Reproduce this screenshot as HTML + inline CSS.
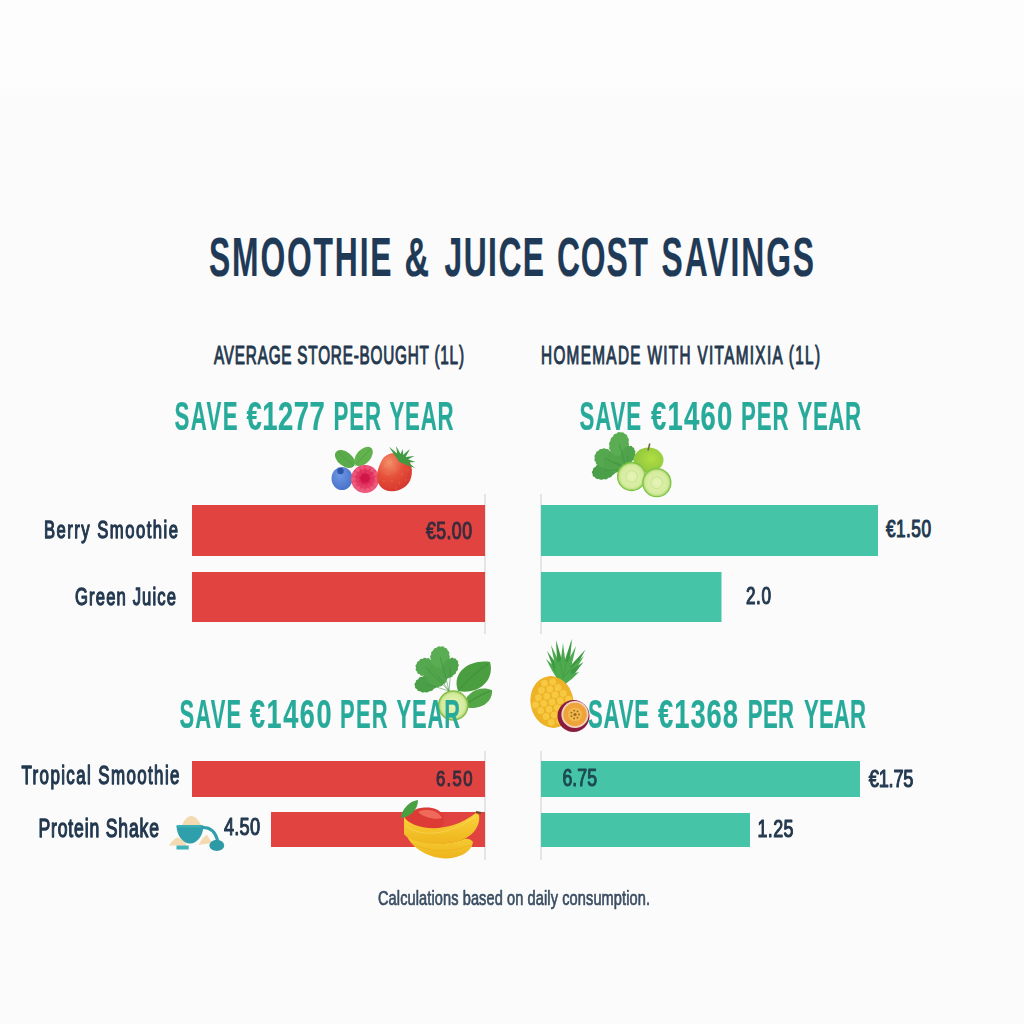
<!DOCTYPE html>
<html><head><meta charset="utf-8"><title>Smoothie &amp; Juice Cost Savings</title>
<style>html,body{margin:0;padding:0;background:#fbfbfb;width:1024px;height:1024px;overflow:hidden}
svg{display:block;filter:blur(0.35px)}text{font-family:"Liberation Sans",sans-serif}</style></head><body>
<svg width="1024" height="1024" viewBox="0 0 1024 1024">
<defs><linearGradient id="bgTop" x1="0" y1="0" x2="0" y2="1"><stop offset="0" stop-color="#fdfdfd"/><stop offset="0.8" stop-color="#fdfdfd"/><stop offset="1" stop-color="#fbfbfb"/></linearGradient></defs>
<rect width="1024" height="1024" fill="#fbfbfb"/>
<rect width="1024" height="100" fill="url(#bgTop)"/>

<rect x="484.4" y="494" width="1.2" height="140" fill="#d6d6d6"/>
<rect x="540.4" y="494" width="1.2" height="140" fill="#d6d6d6"/>
<rect x="484.4" y="751" width="1.2" height="109" fill="#d6d6d6"/>
<rect x="540.4" y="751" width="1.2" height="109" fill="#d6d6d6"/>
<rect x="192" y="505" width="293" height="51" fill="#e14341"/>
<rect x="192" y="572" width="293" height="50" fill="#e14341"/>
<rect x="192" y="761" width="293" height="36" fill="#e14341"/>
<rect x="271" y="812" width="214" height="35" fill="#e14341"/>
<rect x="541" y="505" width="337" height="51" fill="#46c4a8"/>
<rect x="541" y="572" width="180.5" height="50" fill="#46c4a8"/>
<rect x="541" y="761" width="319" height="36" fill="#46c4a8"/>
<rect x="541" y="813" width="209" height="34" fill="#46c4a8"/>
<defs>
 <radialGradient id="gBlue" cx="0.4" cy="0.35" r="0.7"><stop offset="0" stop-color="#6e97e4"/><stop offset="1" stop-color="#4670c8"/></radialGradient>
 <radialGradient id="gRasp" cx="0.5" cy="0.45" r="0.55"><stop offset="0" stop-color="#d2144a"/><stop offset="0.45" stop-color="#de2a58"/><stop offset="1" stop-color="#ee5a7c"/></radialGradient>
 <radialGradient id="gStraw" cx="0.35" cy="0.25" r="0.8"><stop offset="0" stop-color="#f3906a"/><stop offset="0.5" stop-color="#e5503a"/><stop offset="1" stop-color="#d5352c"/></radialGradient>
 <radialGradient id="gApple" cx="0.6" cy="0.45" r="0.6"><stop offset="0" stop-color="#b2de42"/><stop offset="1" stop-color="#8cc63e"/></radialGradient>
 <radialGradient id="gCuc" cx="0.5" cy="0.5" r="0.5"><stop offset="0" stop-color="#e6f4b8"/><stop offset="0.8" stop-color="#d4eb9c"/><stop offset="1" stop-color="#a8d46a"/></radialGradient>
 <radialGradient id="gPine" cx="0.45" cy="0.45" r="0.6"><stop offset="0" stop-color="#f8cf3c"/><stop offset="1" stop-color="#eab22a"/></radialGradient>
 <radialGradient id="gPass" cx="0.5" cy="0.5" r="0.5"><stop offset="0" stop-color="#b88a20"/><stop offset="0.25" stop-color="#e8a030"/><stop offset="0.75" stop-color="#f2b440"/><stop offset="0.8" stop-color="#f6d8c0"/><stop offset="0.86" stop-color="#f2c8b8"/><stop offset="0.9" stop-color="#9a2848"/><stop offset="1" stop-color="#7a1a38"/></radialGradient>
 <linearGradient id="gBan" x1="0" y1="0" x2="0" y2="1"><stop offset="0" stop-color="#fad43a"/><stop offset="1" stop-color="#eeb41e"/></linearGradient>
 <filter id="soft" x="-10%" y="-10%" width="120%" height="120%"><feGaussianBlur stdDeviation="0.45"/></filter>
</defs>
<g filter="url(#soft)">
<!-- BERRIES -->
<ellipse cx="345" cy="459" rx="11.5" ry="7" transform="rotate(38 345 459)" fill="#5aab4a"/>
<ellipse cx="363.5" cy="456.5" rx="11.5" ry="7" transform="rotate(-48 363.5 456.5)" fill="#62b24e"/>
<path d="M338,452 L354,466 M371,448 L355,466" stroke="#46923e" stroke-width="0.7" opacity="0.7"/>
<ellipse cx="342" cy="478.5" rx="10.5" ry="11.5" fill="url(#gBlue)"/>
<circle cx="340.5" cy="471" r="3.2" fill="#2f52a8"/>
<circle cx="365" cy="479" r="14" fill="url(#gRasp)"/>
<circle cx="376.5" cy="479.0" r="2.2" fill="#f06a8a" opacity="0.55"/><circle cx="375.4" cy="484.0" r="2.2" fill="#f06a8a" opacity="0.55"/><circle cx="372.2" cy="488.0" r="2.2" fill="#f06a8a" opacity="0.55"/><circle cx="367.6" cy="490.2" r="2.2" fill="#f06a8a" opacity="0.55"/><circle cx="362.4" cy="490.2" r="2.2" fill="#f06a8a" opacity="0.55"/><circle cx="357.8" cy="488.0" r="2.2" fill="#f06a8a" opacity="0.55"/><circle cx="354.6" cy="484.0" r="2.2" fill="#f06a8a" opacity="0.55"/><circle cx="353.5" cy="479.0" r="2.2" fill="#f06a8a" opacity="0.55"/><circle cx="354.6" cy="474.0" r="2.2" fill="#f06a8a" opacity="0.55"/><circle cx="357.8" cy="470.0" r="2.2" fill="#f06a8a" opacity="0.55"/><circle cx="362.4" cy="467.8" r="2.2" fill="#f06a8a" opacity="0.55"/><circle cx="367.6" cy="467.8" r="2.2" fill="#f06a8a" opacity="0.55"/><circle cx="372.2" cy="470.0" r="2.2" fill="#f06a8a" opacity="0.55"/><circle cx="375.4" cy="474.0" r="2.2" fill="#f06a8a" opacity="0.55"/><circle cx="372.2" cy="481.2" r="2.2" fill="#e8406a" opacity="0.55"/><circle cx="369.1" cy="485.3" r="2.2" fill="#e8406a" opacity="0.55"/><circle cx="364.1" cy="486.4" r="2.2" fill="#e8406a" opacity="0.55"/><circle cx="359.5" cy="484.1" r="2.2" fill="#e8406a" opacity="0.55"/><circle cx="357.5" cy="479.4" r="2.2" fill="#e8406a" opacity="0.55"/><circle cx="359.0" cy="474.5" r="2.2" fill="#e8406a" opacity="0.55"/><circle cx="363.3" cy="471.7" r="2.2" fill="#e8406a" opacity="0.55"/><circle cx="368.4" cy="472.3" r="2.2" fill="#e8406a" opacity="0.55"/><circle cx="371.9" cy="476.1" r="2.2" fill="#e8406a" opacity="0.55"/>
<circle cx="365" cy="478" r="4.5" fill="#cc1444" opacity="0.7"/>
<path d="M381,462 C385,451 401,450 408,459 C414,467 413,480 406,486 C398,493 385,493 380,486 C375,479 377,470 381,462 Z" fill="url(#gStraw)"/>
<ellipse cx="385" cy="466" rx="0.7" ry="1" fill="#f6b08a" opacity="0.3"/><ellipse cx="391" cy="462" rx="0.7" ry="1" fill="#f6b08a" opacity="0.3"/><ellipse cx="388" cy="474" rx="0.7" ry="1" fill="#f6b08a" opacity="0.3"/><ellipse cx="395" cy="470" rx="0.7" ry="1" fill="#f6b08a" opacity="0.3"/><ellipse cx="402" cy="474" rx="0.7" ry="1" fill="#f6b08a" opacity="0.3"/><ellipse cx="384" cy="481" rx="0.7" ry="1" fill="#f6b08a" opacity="0.3"/><ellipse cx="392" cy="481" rx="0.7" ry="1" fill="#f6b08a" opacity="0.3"/><ellipse cx="399" cy="483" rx="0.7" ry="1" fill="#f6b08a" opacity="0.3"/><ellipse cx="406" cy="480" rx="0.7" ry="1" fill="#f6b08a" opacity="0.3"/><ellipse cx="396" cy="488" rx="0.7" ry="1" fill="#f6b08a" opacity="0.3"/><ellipse cx="408" cy="470" rx="0.7" ry="1" fill="#f6b08a" opacity="0.3"/><g fill="#3f9a40"><path d="M402.6,458.5 Q396.2,452.3 389,446.7 Q393.8,454.4 399.4,461.5 Z"/><path d="M403.1,459.3 Q400.0,452.5 396,446 Q397.0,453.5 398.9,460.7 Z"/><path d="M403.2,460.3 Q403.4,454.7 402.6,449 Q400.2,454.3 398.8,459.7 Z"/><path d="M402.7,461.4 Q406.7,455.5 410,449 Q404.3,453.5 399.3,458.6 Z"/><path d="M401.6,462.1 Q408.2,459.5 414.5,456 Q407.3,456.5 400.4,457.9 Z"/><path d="M400.7,462.2 Q408.0,462.6 415.5,462 Q408.5,459.4 401.3,457.8 Z"/><path d="M399.9,461.9 Q407.2,465.4 415,468 Q408.8,462.6 402.1,458.1 Z"/><circle cx="402" cy="459" r="3.5"/></g>
<!-- GREEN JUICE -->
<path d="M615.3,468.0 Q617.1,469.9 615.1,471.5 Q615.4,474.4 612.6,475.0 Q611.6,477.9 608.5,477.7 Q606.5,480.2 603.5,479.0 Q600.9,480.8 598.5,478.8 Q595.8,479.6 594.7,477.0 Q592.1,476.6 592.7,474.0 Q590.9,472.1 592.9,470.5 Q592.6,467.6 595.4,467.0 Q596.4,464.1 599.5,464.3 Q601.5,461.8 604.5,463.0 Q607.1,461.2 609.5,463.2 Q612.2,462.4 613.3,465.0 Q615.9,465.4 615.3,468.0 Z" fill="#4c9f48"/><path d="M613.1,458.0 Q614.5,460.4 612.2,461.9 Q612.4,464.7 609.7,465.1 Q608.7,467.7 606.0,466.9 Q604.0,468.8 602.0,466.9 Q599.3,467.7 598.3,465.1 Q595.6,464.7 595.8,461.9 Q593.5,460.4 594.9,458.0 Q593.5,455.6 595.8,454.1 Q595.6,451.3 598.3,450.9 Q599.3,448.3 602.0,449.1 Q604.0,447.2 606.0,449.1 Q608.7,448.3 609.7,450.9 Q612.4,451.3 612.2,454.1 Q614.5,455.6 613.1,458.0 Z" fill="#55a84f"/><path d="M625.4,462.0 Q626.7,464.7 624.4,466.5 Q624.4,469.5 621.5,470.1 Q620.2,472.8 617.3,472.1 Q615.0,474.0 612.7,472.1 Q609.8,472.8 608.5,470.1 Q605.6,469.5 605.6,466.5 Q603.3,464.7 604.6,462.0 Q603.3,459.3 605.6,457.5 Q605.6,454.5 608.5,453.9 Q609.8,451.2 612.7,451.9 Q615.0,450.0 617.3,451.9 Q620.2,451.2 621.5,453.9 Q624.4,454.5 624.4,457.5 Q626.7,459.3 625.4,462.0 Z" fill="#52a54c"/><path d="M627.6,447.1 Q627.9,450.3 625.0,451.6 Q624.3,454.5 621.2,454.5 Q619.5,456.8 617.0,455.4 Q614.4,456.5 613.2,454.0 Q610.4,453.5 610.5,450.7 Q608.2,448.7 609.6,446.0 Q608.1,443.1 610.4,440.9 Q610.1,437.7 613.0,436.4 Q613.7,433.5 616.8,433.5 Q618.5,431.2 621.0,432.6 Q623.6,431.5 624.8,434.0 Q627.6,434.5 627.5,437.3 Q629.8,439.3 628.4,442.0 Q629.9,444.9 627.6,447.1 Z" fill="#5aad52"/><path d="M634.1,457.2 Q634.8,459.9 632.2,460.7 Q632.0,463.3 629.4,463.1 Q628.3,465.3 626.3,463.8 Q624.3,465.1 623.6,462.8 Q621.1,462.7 621.8,460.3 Q619.6,458.8 621.1,456.7 Q619.7,454.4 621.9,452.8 Q621.2,450.1 623.8,449.3 Q624.0,446.7 626.6,446.9 Q627.7,444.7 629.7,446.2 Q631.7,444.9 632.4,447.2 Q634.9,447.3 634.2,449.7 Q636.4,451.2 634.9,453.3 Q636.3,455.6 634.1,457.2 Z" fill="#50a44c"/><path d="M626,469 Q616.0,470.0 604.0,471.0 M626,469 Q616.0,463.5 604.0,458.0 M626,469 Q621.5,465.5 615.0,462.0 M626,469 Q623.5,456.5 619.0,444.0 M626,469 Q628.0,462.0 628.0,455.0" stroke="#3c8c3c" stroke-width="0.9" fill="none" opacity="0.6"/>
<ellipse cx="648.5" cy="460" rx="15" ry="12.5" fill="url(#gApple)"/>
<path d="M649.8,443.5 L648,450.5" stroke="#7a6a40" stroke-width="1.6"/>
<circle cx="631.6" cy="476.5" r="14" fill="url(#gCuc)" stroke="#7cc444" stroke-width="1.3"/><circle cx="631.6" cy="476.5" r="6" fill="none" stroke="#c8e290" stroke-width="1.2" opacity="0.8"/>
<circle cx="656.8" cy="482.7" r="14" fill="url(#gCuc)" stroke="#7cc444" stroke-width="1.3"/><circle cx="656.8" cy="482.7" r="6" fill="none" stroke="#c8e290" stroke-width="1.2" opacity="0.8"/>
<!-- KALE / SPINACH bottom left -->
<path d="M436.9,682.1 Q438.5,684.1 436.4,685.6 Q436.6,688.4 433.8,688.8 Q432.7,691.6 429.7,691.1 Q427.7,693.4 424.9,691.9 Q422.3,693.4 420.3,691.2 Q417.5,691.8 416.8,689.1 Q414.3,688.4 415.1,685.9 Q413.5,683.9 415.6,682.4 Q415.4,679.6 418.2,679.2 Q419.3,676.4 422.3,676.9 Q424.3,674.6 427.1,676.1 Q429.7,674.6 431.7,676.8 Q434.5,676.2 435.2,678.9 Q437.7,679.6 436.9,682.1 Z" fill="#4c9f48"/><path d="M432.9,662.5 Q435.2,663.7 433.9,666.1 Q435.4,668.3 433.2,669.9 Q433.6,672.6 430.9,673.1 Q430.1,675.8 427.4,675.1 Q425.6,677.2 423.4,675.6 Q420.9,676.7 419.7,674.3 Q417.1,674.2 417.1,671.5 Q414.8,670.3 416.1,667.9 Q414.6,665.7 416.8,664.1 Q416.4,661.4 419.1,660.9 Q419.9,658.2 422.6,658.9 Q424.4,656.8 426.6,658.4 Q429.1,657.3 430.3,659.7 Q432.9,659.8 432.9,662.5 Z" fill="#55a84f"/><path d="M447.4,675.0 Q448.7,677.9 446.4,680.1 Q446.5,683.2 443.5,684.1 Q442.3,686.9 439.3,686.4 Q437.0,688.3 434.7,686.4 Q431.7,686.9 430.5,684.1 Q427.5,683.2 427.6,680.1 Q425.3,677.9 426.6,675.0 Q425.3,672.1 427.6,669.9 Q427.5,666.8 430.5,665.9 Q431.7,663.1 434.7,663.6 Q437.0,661.7 439.3,663.6 Q442.3,663.1 443.5,665.9 Q446.5,666.8 446.4,669.9 Q448.7,672.1 447.4,675.0 Z" fill="#52a54c"/><path d="M448.8,659.4 Q449.5,662.3 446.8,663.5 Q446.3,666.4 443.4,666.3 Q441.8,668.7 439.3,667.3 Q436.9,668.6 435.4,666.3 Q432.6,666.2 432.4,663.4 Q429.9,662.0 430.9,659.2 Q429.2,656.8 431.2,654.6 Q430.5,651.7 433.2,650.5 Q433.7,647.6 436.6,647.7 Q438.2,645.3 440.7,646.7 Q443.1,645.4 444.6,647.7 Q447.4,647.8 447.6,650.6 Q450.1,652.0 449.1,654.8 Q450.8,657.2 448.8,659.4 Z" fill="#5aad52"/><path d="M456.2,671.6 Q456.2,674.5 453.3,675.1 Q452.5,677.8 449.8,677.3 Q448.2,679.3 446.3,677.6 Q444.0,678.4 443.6,676.0 Q441.1,675.2 442.1,672.8 Q440.2,670.7 442.2,668.7 Q441.2,665.9 443.8,664.4 Q443.8,661.5 446.7,660.9 Q447.5,658.2 450.2,658.7 Q451.8,656.7 453.7,658.4 Q456.0,657.6 456.4,660.0 Q458.9,660.8 457.9,663.2 Q459.8,665.3 457.8,667.3 Q458.8,670.1 456.2,671.6 Z" fill="#50a44c"/><path d="M449,691 Q438.5,687.5 426.0,684.0 M449,691 Q438.0,679.0 425.0,667.0 M449,691 Q444.0,683.0 437.0,675.0 M449,691 Q445.5,674.0 440.0,657.0 M449,691 Q450.5,679.5 450.0,668.0" stroke="#3c8c3c" stroke-width="0.9" fill="none" opacity="0.6"/>
<path d="M458,691 C451,672 470,659 490,662 C495,680 479,695 458,691 Z" fill="#4c9e40"/>
<path d="M463,707 C465,692 480,685 492,690 C493,703 479,711 463,707 Z" fill="#53a645"/>
<path d="M460,689 C468,680 478,670 488,664 M465,705 C472,700 482,694 490,691" stroke="#3d8836" stroke-width="0.9" fill="none"/>
<circle cx="453.2" cy="705.5" r="14.6" fill="url(#gCuc)" stroke="#88bc4c" stroke-width="1.5"/>
<!-- PINEAPPLE -->
<g fill="#4daa4e"><path fill="#4daa4e" d="M566.0,678.7 Q556.9,668.2 546,659 Q552.1,671.8 560.0,683.3 Z"/><path fill="#3f9a44" d="M566.4,679.2 Q557.6,664.6 547,651 Q552.4,667.4 559.6,682.8 Z"/><path fill="#4daa4e" d="M566.6,679.8 Q559.8,662.1 551,645 Q554.2,663.9 559.4,682.2 Z"/><path fill="#3f9a44" d="M566.7,680.4 Q562.5,660.0 556,640 Q556.5,661.0 559.3,681.6 Z"/><path fill="#4daa4e" d="M566.8,681.0 Q566.0,662.0 563,643 Q560.0,662.0 559.2,681.0 Z"/><path fill="#3f9a44" d="M566.7,681.8 Q570.4,660.5 572,638.8 Q564.6,659.3 559.3,680.2 Z"/><path fill="#4daa4e" d="M566.6,682.3 Q572.3,664.5 576,646 Q566.7,662.5 559.4,679.7 Z"/><path fill="#3f9a44" d="M566.1,683.2 Q576.7,667.0 585.5,649.5 Q571.8,663.5 559.9,678.8 Z"/><path fill="#4daa4e" d="M565.9,683.4 Q575.8,670.4 584,656 Q571.2,666.6 560.1,678.6 Z"/><path fill="#3f9a44" d="M565.6,683.8 Q575.3,673.7 583.5,662 Q571.2,669.3 560.4,678.2 Z"/><path fill="#4daa4e" d="M564.9,684.3 Q572.5,679.1 579,672 Q569.5,673.9 561.1,677.7 Z"/><ellipse cx="563" cy="670" rx="8" ry="10" fill="#4daa4e"/></g><path d="M563,678 L557,645 M563,678 L571,642 M563,678 L582,656" stroke="#3b8f3e" stroke-width="0.8" opacity="0.5" fill="none"/>
<g transform="rotate(-10 552 702)"><ellipse cx="552" cy="702" rx="21.5" ry="26" fill="#eeb228"/><circle cx="547.8" cy="682.2" r="3.4" fill="#f8d04a" opacity="0.75"/><circle cx="556.2" cy="682.2" r="3.4" fill="#f8d04a" opacity="0.75"/><circle cx="543.6" cy="688.8" r="3.4" fill="#f8d04a" opacity="0.75"/><circle cx="552.0" cy="688.8" r="3.4" fill="#f8d04a" opacity="0.75"/><circle cx="560.4" cy="688.8" r="3.4" fill="#f8d04a" opacity="0.75"/><circle cx="539.4" cy="695.4" r="3.4" fill="#f8d04a" opacity="0.75"/><circle cx="547.8" cy="695.4" r="3.4" fill="#f8d04a" opacity="0.75"/><circle cx="556.2" cy="695.4" r="3.4" fill="#f8d04a" opacity="0.75"/><circle cx="564.6" cy="695.4" r="3.4" fill="#f8d04a" opacity="0.75"/><circle cx="535.2" cy="702.0" r="3.4" fill="#f8d04a" opacity="0.75"/><circle cx="543.6" cy="702.0" r="3.4" fill="#f8d04a" opacity="0.75"/><circle cx="552.0" cy="702.0" r="3.4" fill="#f8d04a" opacity="0.75"/><circle cx="560.4" cy="702.0" r="3.4" fill="#f8d04a" opacity="0.75"/><circle cx="568.8" cy="702.0" r="3.4" fill="#f8d04a" opacity="0.75"/><circle cx="539.4" cy="708.6" r="3.4" fill="#f8d04a" opacity="0.75"/><circle cx="547.8" cy="708.6" r="3.4" fill="#f8d04a" opacity="0.75"/><circle cx="556.2" cy="708.6" r="3.4" fill="#f8d04a" opacity="0.75"/><circle cx="564.6" cy="708.6" r="3.4" fill="#f8d04a" opacity="0.75"/><circle cx="543.6" cy="715.2" r="3.4" fill="#f8d04a" opacity="0.75"/><circle cx="552.0" cy="715.2" r="3.4" fill="#f8d04a" opacity="0.75"/><circle cx="560.4" cy="715.2" r="3.4" fill="#f8d04a" opacity="0.75"/><circle cx="547.8" cy="721.8" r="3.4" fill="#f8d04a" opacity="0.75"/><circle cx="556.2" cy="721.8" r="3.4" fill="#f8d04a" opacity="0.75"/></g>
<circle cx="573.5" cy="716" r="16" fill="#8a1f3e"/><circle cx="575" cy="714.5" r="13.6" fill="#f3d2c0"/><circle cx="575" cy="714.5" r="11.8" fill="#eea43a"/><circle cx="575" cy="714.5" r="7" fill="#f4bc50" opacity="0.8"/><circle cx="579.0" cy="714.5" r="0.9" fill="#6a4a10" opacity="0.7"/><circle cx="577.5" cy="717.6" r="0.9" fill="#6a4a10" opacity="0.7"/><circle cx="574.1" cy="718.4" r="0.9" fill="#6a4a10" opacity="0.7"/><circle cx="571.4" cy="716.2" r="0.9" fill="#6a4a10" opacity="0.7"/><circle cx="571.4" cy="712.7" r="0.9" fill="#6a4a10" opacity="0.7"/><circle cx="574.2" cy="710.6" r="0.9" fill="#6a4a10" opacity="0.7"/><circle cx="577.5" cy="711.4" r="0.9" fill="#6a4a10" opacity="0.7"/><circle cx="575" cy="714.5" r="1.6" fill="#7a5a18" opacity="0.8"/>
<!-- MANGO + BANANA -->
<path d="M404,824 C404,812 418,806 432,808 C444,810 448,822 440,828 C430,834 408,836 404,824 Z" fill="#dd3a36"/>
<path d="M418,812 C426,808 438,810 442,818 C436,820 424,818 418,812 Z" fill="#ef6a5a"/>
<path d="M401,818 C402,808 410,801 418,800 C418,810 410,817 401,818 Z" fill="#48a040"/>
<path d="M405,830 C408,848 432,861 452,858 C464,856 472,850 473,842 C470,838 466,838 462,840 C445,846 420,844 405,830 Z" fill="url(#gBan)"/>
<path d="M410,842 C425,852 450,854 470,845" stroke="#e3a51a" stroke-width="0.8" fill="none" opacity="0.5"/>
<path d="M404,817 C412,829 446,836 476,813 L479,815 C481,827 471,839 455,842 C435,846 410,843 404,834 Z" fill="url(#gBan)"/>
<path d="M406,826 C418,836 446,838 476,816" stroke="#fbe06a" stroke-width="1" fill="none" opacity="0.5"/>
<path d="M476,812 L481,813" stroke="#6a4a20" stroke-width="2"/>
<!-- PROTEIN BOWL -->
<path d="M181,828 C183,821 187,816 191,816 C196,816 200,821 202,828 Z" fill="#f3dab0"/>
<path d="M168.8,845.5 C172,841 175,838 178,837.5 C182,839 185,842 187,845.5 Z" fill="#f3dab0"/>
<path d="M198.5,845 C201,840 204,836 207,835 C209,838 211,841 212,843 Z" fill="#f3dab0"/>
<path d="M176.5,826 L203.5,826 C203,836 197,843.5 190,843.5 C183,843.5 177,836 176.5,826 Z" fill="#2f9fab"/>
<rect x="176.5" y="825" width="27" height="2.6" rx="1.2" fill="#3aaeb6"/>
<path d="M202,827.5 C209,827 215,831 217.5,840" stroke="#2f9fab" stroke-width="3" fill="none" stroke-linecap="round"/>
<ellipse cx="216.8" cy="845.4" rx="7.4" ry="5.6" fill="#2f9aa6"/>
<rect x="176.5" y="845.5" width="12.2" height="4" fill="#3fb2ba"/>
</g>

<text transform="scale(0.58,1)" x="360.34" y="275.90" font-weight="bold" font-size="54.78" textLength="314.69" lengthAdjust="spacing" fill="#1f3a56" stroke="#1f3a56" stroke-width="0.2" stroke-linejoin="round" vector-effect="non-scaling-stroke">SMOOTHIE</text>
<text transform="scale(0.62,1)" x="652.42" y="275.90" font-weight="bold" font-size="54.78" textLength="42.39" lengthAdjust="spacing" fill="#1f3a56" stroke="#1f3a56" stroke-width="0.2" stroke-linejoin="round" vector-effect="non-scaling-stroke">&amp;</text>
<text transform="scale(0.58,1)" x="766.38" y="275.90" font-weight="bold" font-size="54.78" textLength="171.59" lengthAdjust="spacing" fill="#1f3a56" stroke="#1f3a56" stroke-width="0.2" stroke-linejoin="round" vector-effect="non-scaling-stroke">JUICE</text>
<text transform="scale(0.58,1)" x="960.34" y="275.90" font-weight="bold" font-size="54.78" textLength="156.94" lengthAdjust="spacing" fill="#1f3a56" stroke="#1f3a56" stroke-width="0.2" stroke-linejoin="round" vector-effect="non-scaling-stroke">COST</text>
<text transform="scale(0.58,1)" x="1140.52" y="275.90" font-weight="bold" font-size="54.78" textLength="262.97" lengthAdjust="spacing" fill="#1f3a56" stroke="#1f3a56" stroke-width="0.2" stroke-linejoin="round" vector-effect="non-scaling-stroke">SAVINGS</text>
<text transform="scale(0.6,1)" x="356.67" y="364.05" font-weight="normal" font-size="25.51" textLength="416.67" lengthAdjust="spacing" fill="#24384e" stroke="#24384e" stroke-width="0.9" stroke-linejoin="round" vector-effect="non-scaling-stroke">AVERAGE STORE-BOUGHT (1L)</text>
<text transform="scale(0.6,1)" x="901.67" y="364.05" font-weight="normal" font-size="25.51" textLength="465.01" lengthAdjust="spacing" fill="#24384e" stroke="#24384e" stroke-width="0.9" stroke-linejoin="round" vector-effect="non-scaling-stroke">HOMEMADE WITH VITAMIXIA (1L)</text>
<text transform="scale(0.55,1)" x="317.27" y="430.40" font-weight="bold" font-size="40.43" textLength="114.62" lengthAdjust="spacing" fill="#27aa9a" stroke="#27aa9a" stroke-width="0.2" stroke-linejoin="round" vector-effect="non-scaling-stroke">SAVE</text>
<text transform="scale(0.68,1)" x="362.50" y="430.40" font-weight="bold" font-size="40.43" textLength="115.11" lengthAdjust="spacing" fill="#27aa9a" stroke="#27aa9a" stroke-width="0.2" stroke-linejoin="round" vector-effect="non-scaling-stroke">€1277</text>
<text transform="scale(0.55,1)" x="606.36" y="430.40" font-weight="bold" font-size="40.43" textLength="86.51" lengthAdjust="spacing" fill="#27aa9a" stroke="#27aa9a" stroke-width="0.2" stroke-linejoin="round" vector-effect="non-scaling-stroke">PER</text>
<text transform="scale(0.55,1)" x="708.18" y="430.40" font-weight="bold" font-size="40.43" textLength="116.42" lengthAdjust="spacing" fill="#27aa9a" stroke="#27aa9a" stroke-width="0.2" stroke-linejoin="round" vector-effect="non-scaling-stroke">YEAR</text>
<text transform="scale(0.55,1)" x="1053.64" y="430.40" font-weight="bold" font-size="40.43" textLength="111.87" lengthAdjust="spacing" fill="#27aa9a" stroke="#27aa9a" stroke-width="0.2" stroke-linejoin="round" vector-effect="non-scaling-stroke">SAVE</text>
<text transform="scale(0.68,1)" x="957.35" y="430.40" font-weight="bold" font-size="40.43" textLength="119.52" lengthAdjust="spacing" fill="#27aa9a" stroke="#27aa9a" stroke-width="0.2" stroke-linejoin="round" vector-effect="non-scaling-stroke">€1460</text>
<text transform="scale(0.55,1)" x="1347.27" y="430.40" font-weight="bold" font-size="40.43" textLength="86.51" lengthAdjust="spacing" fill="#27aa9a" stroke="#27aa9a" stroke-width="0.2" stroke-linejoin="round" vector-effect="non-scaling-stroke">PER</text>
<text transform="scale(0.55,1)" x="1450.00" y="430.40" font-weight="bold" font-size="40.43" textLength="115.48" lengthAdjust="spacing" fill="#27aa9a" stroke="#27aa9a" stroke-width="0.2" stroke-linejoin="round" vector-effect="non-scaling-stroke">YEAR</text>
<text transform="scale(0.55,1)" x="326.36" y="728.10" font-weight="bold" font-size="39.86" textLength="111.90" lengthAdjust="spacing" fill="#27aa9a" stroke="#27aa9a" stroke-width="0.2" stroke-linejoin="round" vector-effect="non-scaling-stroke">SAVE</text>
<text transform="scale(0.68,1)" x="367.65" y="728.10" font-weight="bold" font-size="39.86" textLength="119.87" lengthAdjust="spacing" fill="#27aa9a" stroke="#27aa9a" stroke-width="0.2" stroke-linejoin="round" vector-effect="non-scaling-stroke">€1460</text>
<text transform="scale(0.55,1)" x="618.18" y="728.10" font-weight="bold" font-size="39.86" textLength="86.59" lengthAdjust="spacing" fill="#27aa9a" stroke="#27aa9a" stroke-width="0.2" stroke-linejoin="round" vector-effect="non-scaling-stroke">PER</text>
<text transform="scale(0.55,1)" x="720.91" y="728.10" font-weight="bold" font-size="39.86" textLength="115.48" lengthAdjust="spacing" fill="#27aa9a" stroke="#27aa9a" stroke-width="0.2" stroke-linejoin="round" vector-effect="non-scaling-stroke">YEAR</text>
<text transform="scale(0.55,1)" x="1069.09" y="727.90" font-weight="bold" font-size="40.29" textLength="110.99" lengthAdjust="spacing" fill="#27aa9a" stroke="#27aa9a" stroke-width="0.2" stroke-linejoin="round" vector-effect="non-scaling-stroke">SAVE</text>
<text transform="scale(0.68,1)" x="967.65" y="727.90" font-weight="bold" font-size="40.29" textLength="117.67" lengthAdjust="spacing" fill="#27aa9a" stroke="#27aa9a" stroke-width="0.2" stroke-linejoin="round" vector-effect="non-scaling-stroke">€1368</text>
<text transform="scale(0.55,1)" x="1359.55" y="727.90" font-weight="bold" font-size="40.29" textLength="84.16" lengthAdjust="spacing" fill="#27aa9a" stroke="#27aa9a" stroke-width="0.2" stroke-linejoin="round" vector-effect="non-scaling-stroke">PER</text>
<text transform="scale(0.55,1)" x="1461.82" y="727.90" font-weight="bold" font-size="40.29" textLength="112.74" lengthAdjust="spacing" fill="#27aa9a" stroke="#27aa9a" stroke-width="0.2" stroke-linejoin="round" vector-effect="non-scaling-stroke">YEAR</text>
<text transform="scale(0.68,1)" x="64.71" y="538.45" font-weight="normal" font-size="24.49" textLength="197.07" lengthAdjust="spacing" fill="#22384f" stroke="#22384f" stroke-width="1.1" stroke-linejoin="round" vector-effect="non-scaling-stroke">Berry Smoothie</text>
<text transform="scale(0.68,1)" x="110.29" y="605.45" font-weight="normal" font-size="24.49" textLength="148.54" lengthAdjust="spacing" fill="#22384f" stroke="#22384f" stroke-width="1.1" stroke-linejoin="round" vector-effect="non-scaling-stroke">Green Juice</text>
<text transform="scale(0.68,1)" x="31.62" y="784.35" font-weight="normal" font-size="24.93" textLength="232.36" lengthAdjust="spacing" fill="#22384f" stroke="#22384f" stroke-width="1.1" stroke-linejoin="round" vector-effect="non-scaling-stroke">Tropical Smoothie</text>
<text transform="scale(0.68,1)" x="56.62" y="837.45" font-weight="normal" font-size="25.94" textLength="177.22" lengthAdjust="spacing" fill="#22384f" stroke="#22384f" stroke-width="1.1" stroke-linejoin="round" vector-effect="non-scaling-stroke">Protein Shake</text>
<text transform="scale(0.74,1)" x="575.68" y="539.00" font-weight="normal" font-size="23.91" textLength="62.16" lengthAdjust="spacing" fill="#3a2c3c" stroke="#3a2c3c" stroke-width="1.0" stroke-linejoin="round" vector-effect="non-scaling-stroke">€5.00</text>
<text transform="scale(0.74,1)" x="1197.30" y="537.10" font-weight="normal" font-size="23.33" textLength="60.81" lengthAdjust="spacing" fill="#22384f" stroke="#22384f" stroke-width="1.0" stroke-linejoin="round" vector-effect="non-scaling-stroke">€1.50</text>
<text transform="scale(0.74,1)" x="1008.11" y="604.20" font-weight="normal" font-size="23.19" textLength="33.78" lengthAdjust="spacing" fill="#22384f" stroke="#22384f" stroke-width="1.0" stroke-linejoin="round" vector-effect="non-scaling-stroke">2.0</text>
<text transform="scale(0.74,1)" x="589.19" y="786.10" font-weight="normal" font-size="22.61" textLength="49.34" lengthAdjust="spacing" fill="#3a2c3c" stroke="#3a2c3c" stroke-width="1.0" stroke-linejoin="round" vector-effect="non-scaling-stroke">6.50</text>
<text transform="scale(0.74,1)" x="302.70" y="835.50" font-weight="normal" font-size="24.64" textLength="48.71" lengthAdjust="spacing" fill="#22384f" stroke="#22384f" stroke-width="1.0" stroke-linejoin="round" vector-effect="non-scaling-stroke">4.50</text>
<text transform="scale(0.74,1)" x="760.14" y="786.50" font-weight="normal" font-size="23.91" textLength="46.67" lengthAdjust="spacing" fill="#1d4a52" stroke="#1d4a52" stroke-width="1.0" stroke-linejoin="round" vector-effect="non-scaling-stroke">6.75</text>
<text transform="scale(0.74,1)" x="1173.99" y="787.30" font-weight="normal" font-size="24.64" textLength="60.47" lengthAdjust="spacing" fill="#22384f" stroke="#22384f" stroke-width="1.0" stroke-linejoin="round" vector-effect="non-scaling-stroke">€1.75</text>
<text transform="scale(0.74,1)" x="1023.65" y="837.20" font-weight="normal" font-size="24.20" textLength="48.70" lengthAdjust="spacing" fill="#22384f" stroke="#22384f" stroke-width="1.0" stroke-linejoin="round" vector-effect="non-scaling-stroke">1.25</text>
<text transform="scale(0.74,1)" x="510.81" y="905.20" font-weight="normal" font-size="19.71" textLength="367.57" lengthAdjust="spacing" fill="#3a4d62" stroke="#3a4d62" stroke-width="0.6" stroke-linejoin="round" vector-effect="non-scaling-stroke">Calculations based on daily consumption.</text>
</svg></body></html>
